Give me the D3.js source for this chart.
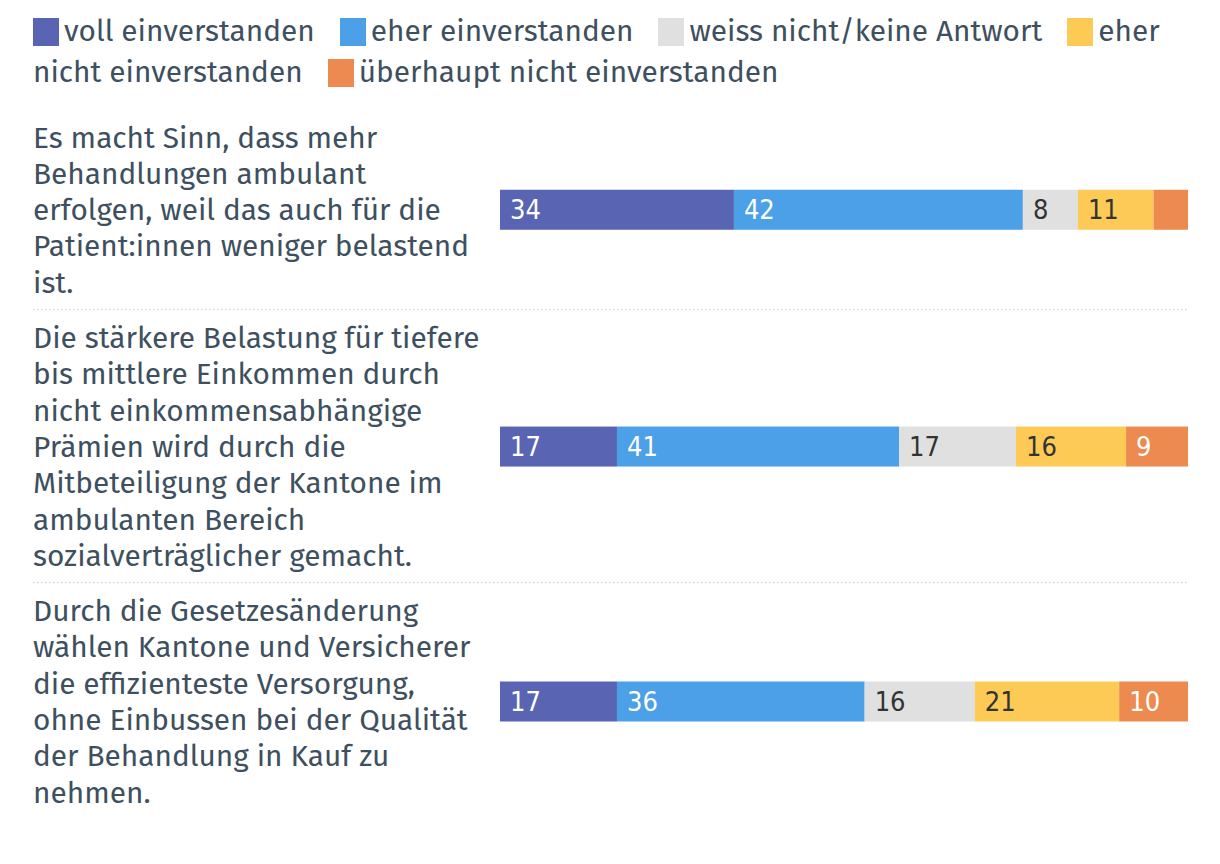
<!DOCTYPE html>
<html><head><meta charset="utf-8">
<script src="https://cdn.jsdelivr.net/npm/d3@7"></script>
<style>
html,body{margin:0;padding:0;background:#fff;}
body{width:1220px;height:864px;position:relative;overflow:hidden;font-family:"Fira Sans","Open Sans",sans-serif;color:#3e5060;}
#legend{position:absolute;left:33px;top:11px;width:1160px;font-size:29.8px;line-height:41px;font-weight:400;}
#legend .item{margin-right:25px;}
#legend .sw{display:inline-block;width:26px;height:28px;vertical-align:-5px;margin-right:5px;}
svg{position:absolute;left:0;top:0;}
</style></head>
<body>
<div id="legend"></div>
<svg id="chart" width="1220" height="864"></svg>
<script>
const categories = ["voll einverstanden","eher einverstanden","weiss nicht/keine Antwort","eher nicht einverstanden","überhaupt nicht einverstanden"];
const colors = ["#5964b3","#4ba0e8","#e0e0e0","#fdcb55","#ed8a4f"];
const labelColors = ["#ffffff","#ffffff","#333333","#333333","#ffffff"];
const statements = [
  ["Es macht Sinn, dass mehr","Behandlungen ambulant","erfolgen, weil das auch für die","Patient:innen weniger belastend","ist."],
  ["Die stärkere Belastung für tiefere","bis mittlere Einkommen durch","nicht einkommensabhängige","Prämien wird durch die","Mitbeteiligung der Kantone im","ambulanten Bereich","sozialverträglicher gemacht."],
  ["Durch die Gesetzesänderung","wählen Kantone und Versicherer","die effizienteste Versorgung,","ohne Einbussen bei der Qualität","der Behandlung in Kauf zu","nehmen."]
];
const values1 = [34,42,8,11,5];
const values2 = [17,41,17,16,9];
const values3 = [17,36,16,21,10];
const rowsData = [values1, values2, values3];

// Legend (HTML flow, wraps like the reference; each word its own span)
const leg = d3.select("#legend");
categories.forEach((c,i)=>{
  const it = leg.append("span").attr("class","item");
  it.append("span").attr("class","sw").style("background",colors[i]);
  const words = c.split(" ");
  words.forEach((w,k)=>{
    it.append("span").text(w);
    if(k < words.length-1) it.append(()=>document.createTextNode(" "));
  });
});

const svg = d3.select("#chart");
const x = d3.scaleLinear().domain([0,100]).range([500,1188]);
const lineH = 36.3;
const barH = 40;
const textX = 33;
let yTop = 119;

rowsData.forEach((vals, r)=>{
  const lines = statements[r];
  const blockH = lines.length*lineH;
  const cy = yTop + blockH/2;
  const t = svg.append("text").attr("x",textX).attr("fill","#3e5060")
    .style("font-size","29.8px").style("font-weight","400")
    .style("font-family",'"Fira Sans","Open Sans",sans-serif');
  lines.forEach((l,i)=>{
    t.append("tspan").attr("x",textX).attr("y", yTop + lineH*i + lineH/2).attr("dy","0.35em").text(l);
  });
  let cum = 0;
  const segs = vals.map((v,i)=>{const s={v,i,x0:cum,x1:cum+v}; cum+=v; return s;});
  const g = svg.append("g");
  g.selectAll("rect").data(segs).join("rect")
    .attr("x",d=>x(d.x0)).attr("width",d=>x(d.x1)-x(d.x0))
    .attr("y",cy-barH/2).attr("height",barH).attr("fill",d=>colors[d.i]);
  g.selectAll("text").data(segs.filter(d=>x(d.x1)-x(d.x0)>40)).join("text")
    .attr("x",d=>x(d.x0)+10).attr("y",cy).attr("dy","0.36em")
    .attr("fill",d=>labelColors[d.i])
    .style("font-size","27px").style("font-family",'"DejaVu Sans Condensed","DejaVu Sans",sans-serif')
    .style("font-stretch","condensed")
    .text(d=>d.v);
  yTop += blockH;
  if(r < rowsData.length-1){
    const sy = yTop + 9;
    svg.append("line").attr("x1",33).attr("x2",1188).attr("y1",sy).attr("y2",sy)
      .attr("stroke","#d6d6d6").attr("stroke-width",1.5).attr("stroke-dasharray","1.5,2.5");
    yTop = sy + 10;
  }
});
</script>
</body></html>
